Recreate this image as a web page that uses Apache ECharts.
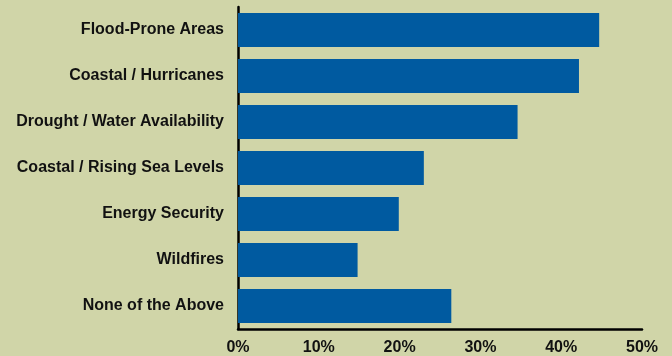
<!DOCTYPE html>
<html>
<head>
<meta charset="utf-8">
<script src="https://cdn.jsdelivr.net/npm/echarts@6/dist/echarts.min.js"></script>
<style>
html, body { margin: 0; padding: 0; background: #d0d5a8; }
#barChart { width: 672px; height: 356px; }
</style>
</head>
<body>
<div id="barChart"></div>
<script>
// categories listed bottom to top (category axis on y starts at the bottom)
var categories = [
    'None of the Above',
    'Wildfires',
    'Energy Security',
    'Coastal / Rising Sea Levels',
    'Drought / Water Availability',
    'Coastal / Hurricanes',
    'Flood-Prone Areas'
];
var values = [26.4, 14.8, 19.9, 23.0, 34.6, 42.2, 44.7];
var tickMin = 0;
var tickMax = 50;
var tickStep = 10;

var font = '"Liberation Sans Narrow", "Arial Narrow", sans-serif';

var myChart = echarts.init(document.getElementById('barChart'));

var option = {
    backgroundColor: '#d0d5a8',
    animation: false,
    grid: {
        left: 238,
        right: 30,
        top: 7,
        bottom: 27
    },
    xAxis: {
        type: 'value',
        min: tickMin,
        max: tickMax,
        interval: tickStep,
        splitLine: {show: false},
        axisTick: {show: false},
        axisLine: {show: true, lineStyle: {color: '#000', width: 2.5}},
        axisLabel: {
            formatter: '{value}%',
            color: '#111',
            fontFamily: font,
            fontWeight: 'bold',
            fontSize: 16,
            margin: 11
        }
    },
    yAxis: {
        type: 'category',
        data: categories,
        axisTick: {show: false},
        axisLine: {show: true, lineStyle: {color: '#000', width: 2.5}},
        axisLabel: {
            color: '#111',
            fontFamily: font,
            fontWeight: 'bold',
            fontSize: 16,
            margin: 14
        }
    },
    series: [{
        type: 'bar',
        data: values,
        barCategoryGap: '26%',
        itemStyle: {color: '#005aa0'}
    }]
};
myChart.setOption(option);
</script>
</body>
</html>
